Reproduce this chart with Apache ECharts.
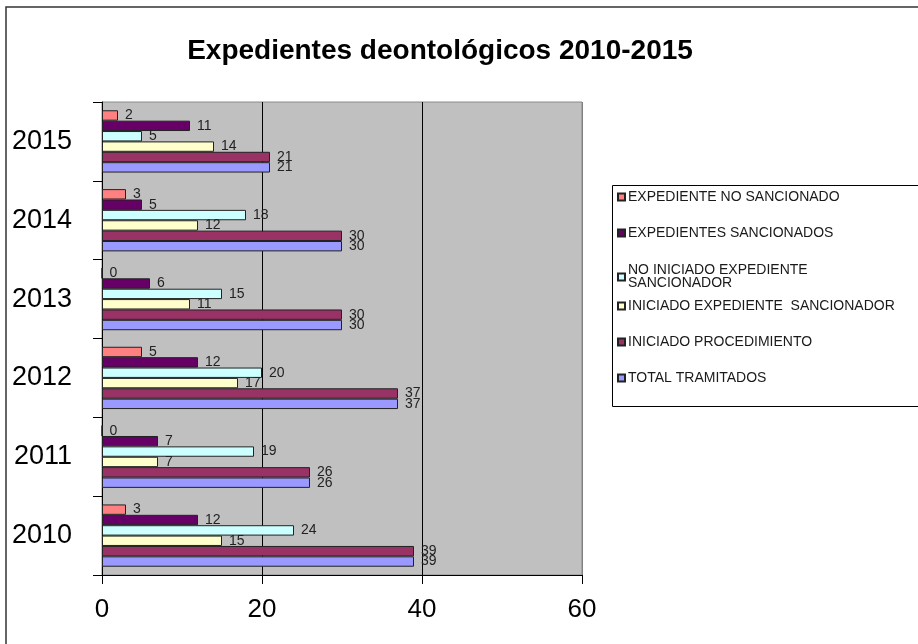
<!DOCTYPE html>
<html>
<head>
<meta charset="utf-8">
<script src="https://cdn.jsdelivr.net/npm/echarts@6/dist/echarts.min.js"></script>
<style>
html,body{margin:0;padding:0;background:#fff;}
#chart{width:918px;height:644px;}
</style>
</head>
<body>
<div id="chart"></div>
<script>
// ---- data ----
const years = ['2010', '2011', '2012', '2013', '2014', '2015'];
// series listed top-to-bottom inside each year group
const seriesNames = [
  'EXPEDIENTE NO SANCIONADO',
  'EXPEDIENTES SANCIONADOS',
  'NO INICIADO EXPEDIENTE SANCIONADOR',
  'INICIADO EXPEDIENTE  SANCIONADOR',
  'INICIADO PROCEDIMIENTO',
  'TOTAL TRAMITADOS'
];
const expedienteNoSancionado = [3, 0, 5, 0, 3, 2];
const expedientesSancionados = [12, 7, 12, 6, 5, 11];
const noIniciadoExpediente   = [24, 19, 20, 15, 18, 5];
const iniciadoExpediente     = [15, 7, 17, 11, 12, 14];
const iniciadoProcedimiento  = [39, 26, 37, 30, 30, 21];
const totalTramitados        = [39, 26, 37, 30, 30, 21];
const xTicks = [0, 20, 40, 60];

const seriesValues = [expedienteNoSancionado, expedientesSancionados, noIniciadoExpediente,
  iniciadoExpediente, iniciadoProcedimiento, totalTramitados];
const colors = ['#FF8080', '#660066', '#CCFFFF', '#FFFFCC', '#993366', '#9999FF'];

const FONT = "'Liberation Sans', Arial, sans-serif";

const chart = echarts.init(document.getElementById('chart'), null, {renderer: 'canvas'});

const series = seriesNames.map((name, i) => ({
  name: name,
  type: 'bar',
  data: seriesValues[i],
  barGap: '0%',
  barCategoryGap: '21%',
  itemStyle: {color: colors[i], borderColor: '#222', borderWidth: 1},
  label: {
    show: true, position: 'right', distance: 7,
    fontFamily: FONT, fontSize: 14, color: '#222'
  },
  emphasis: {disabled: true},
  animation: false
}));

// legend entries, top to bottom
const legendTops = [190, 226, 263.5, 299, 335, 371];
const legends = seriesNames.map((name, i) => ({
  data: [name],
  orient: 'vertical',
  left: 617,
  top: legendTops[i],
  icon: 'rect',
  itemWidth: 7,
  itemHeight: 7,
  itemGap: 0,
  padding: 0,
  selectedMode: false,
  formatter: n => n === 'NO INICIADO EXPEDIENTE SANCIONADOR' ? 'NO INICIADO EXPEDIENTE\nSANCIONADOR' : n,
  textStyle: {fontFamily: FONT, fontSize: 14, color: '#1a1a1a', lineHeight: 13, padding: [0, 0, 0, -2]}
}));

chart.setOption({
  backgroundColor: '#fff',
  animation: false,
  title: {
    text: 'Expedientes deontológicos 2010-2015',
    left: 435, top: 32, textAlign: 'center',
    textStyle: {fontFamily: FONT, fontSize: 28, fontWeight: 'bold', color: '#000'}
  },
  graphic: [
    {type: 'rect', shape: {x: 6, y: 7, width: 1000, height: 1000},
     style: {fill: null, stroke: '#333', lineWidth: 1.5}, silent: true, z: 100},
    {type: 'rect', shape: {x: 612.5, y: 185.5, width: 400, height: 221},
     style: {fill: '#fff', stroke: '#000', lineWidth: 1}, silent: true, z: 0}
  ],
  legend: legends,
  grid: {
    left: 102, top: 102, width: 480, height: 473,
    show: true, backgroundColor: '#C0C0C0', borderColor: '#8a8a8a', borderWidth: 1
  },
  xAxis: {
    type: 'value', min: xTicks[0], max: xTicks[xTicks.length - 1], interval: 20,
    axisLine: {show: true, lineStyle: {color: '#000', width: 1}},
    axisTick: {show: true, length: 9, lineStyle: {color: '#000'}},
    axisLabel: {fontFamily: FONT, fontSize: 26, color: '#000', margin: 22},
    splitLine: {show: true, lineStyle: {color: ['#000', '#000', '#000', '#808080'], width: 1}}
  },
  yAxis: {
    type: 'category', data: years,
    axisLine: {show: true, lineStyle: {color: '#000', width: 1}},
    axisTick: {show: true, length: 9, alignWithLabel: false, lineStyle: {color: '#000'}},
    axisLabel: {fontFamily: FONT, fontSize: 27, color: '#000', margin: 30, align: 'right'},
    splitLine: {show: false}
  },
  series: series
});
</script>
</body>
</html>
